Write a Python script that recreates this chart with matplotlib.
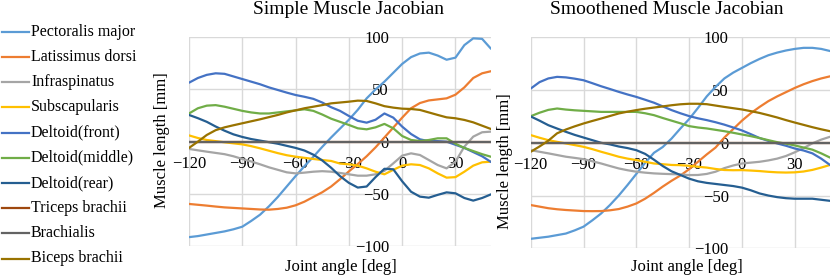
import numpy as np
import matplotlib
matplotlib.use("Agg")
import matplotlib.pyplot as plt
from matplotlib.lines import Line2D

plt.rcParams['font.family'] = ['Liberation Serif', 'DejaVu Serif']

angles = np.arange(-120, 51, 5)

names = ["Pectoralis major", "Latissimus dorsi", "Infraspinatus", "Subscapularis",
         "Deltoid(front)", "Deltoid(middle)", "Deltoid(rear)", "Triceps brachii",
         "Brachialis", "Biceps brachii"]
colors = ["#5B9BD5", "#ED7D31", "#A5A5A5", "#FFC000", "#4472C4", "#70AD47",
          "#255E91", "#9E480E", "#636363", "#997300"]

# ---- Simple Muscle Jacobian ----
s_pect = [-91.5, -90.5, -89, -87.5, -86, -84, -81.5, -76, -70, -62, -53, -43, -33, -23.5, -14.5, -5, 4, 12.5,
          21, 30.5, 41.5, 50, 57.5, 66, 74.5, 81, 84.5, 85.3, 82.5, 78.5, 80.5, 92.5, 99, 98.5, 89]
s_lat = [-59.7, -60.5, -61.3, -62.2, -63, -63.5, -64, -64.5, -65, -65.2, -64.5, -63.3, -61, -57.5, -53, -48.5,
         -43, -36, -28.5, -21.5, -14, -5.5, 4, 13.5, 23, 32, 37, 39.5, 40.5, 41.5, 45, 52, 61, 65.5, 67.5]
s_infra = [-7, -8.3, -9.6, -10.8, -12, -14, -16.6, -19, -21.7, -24.6, -27, -29.4, -30.4, -29.7, -28.8, -28.3,
           -28.8, -30, -31.3, -32.6, -32.6, -31.3, -28, -20.8, -13.4, -11.2, -12.8, -17.6, -22.4, -25.6, -19.2,
           -4.8, 4.8, 9, 9.6]
s_subs = [6, 3.5, 1.6, 0.5, -0.6, -1.6, -2.6, -4.3, -6.4, -8.7, -11, -13, -14.4, -15.5, -16.6, -17.6, -18.5,
          -21, -21.7, -23, -25.6, -28.8, -31.3, -27, -23, -21.7, -22.4, -25.6, -30.4, -34.5, -34, -28.8, -23,
          -19.8, -19.2]
s_front = [56.5, 61, 64, 65.5, 65, 62.5, 60, 57.5, 55, 52, 49.5, 47, 44.7, 43, 41, 37.5, 33, 29.5, 24.6, 20,
           18.2, 21, 27, 23, 14.4, 7.3, 2.2, 0.5, 0.5, 0, -3, -6, -10, -14, -19.5]
s_middle = [27, 32, 34.5, 35, 33.5, 31.5, 29.5, 28, 27, 27, 28, 29, 30, 31, 29.5, 26, 22, 19, 16, 12.8, 11.8,
            13.7, 17, 12.8, 5.4, 1.6, 0.6, 1.6, 3.2, 3.2, -2, -6, -9, -12, -14.5]
s_rear = [25.6, 22.5, 19, 14.5, 10.5, 7, 4.5, 2.5, 1, -0.5, -2, -4, -6, -8.5, -12.5, -18, -25, -33, -39.5,
          -44, -43, -34, -26, -26.5, -38, -48, -52.7, -53.7, -51, -48.6, -49.5, -54, -56.5, -54, -50.5]
s_triceps = [0] * 35
s_brach = [0] * 35
s_biceps = [-6, 0, 6.4, 11, 13.7, 15.7, 17.6, 19.5, 21.4, 23.5, 25.6, 28, 30, 32, 33.5, 35, 36.7, 37.5, 38.3,
            39.3, 39, 36.7, 34, 32.6, 31.6, 31.3, 30.4, 28, 25.6, 23.3, 22.4, 20.8, 18.5, 15.3, 12.1]

# ---- Smoothened Muscle Jacobian ----
m_pect = [-91, -90, -89, -87.5, -86, -83, -79.5, -73.5, -67, -59, -50, -40, -29.5, -19, -9.5, -4, 4, 13.5,
          22.5, 33, 44, 53, 61, 66.5, 71, 75.5, 79.5, 83, 85.5, 87.5, 89, 90, 90, 89, 87]
m_lat = [-59, -60.5, -62, -63, -63.7, -64.2, -64.7, -64.8, -64.7, -64, -62.8, -60.5, -57.5, -53, -47.5, -41.5,
         -36, -31, -25, -18, -11, -4.5, 5, 13, 21, 28, 34, 39.5, 44, 48, 52, 55.5, 58.5, 61, 63]
m_infra = [-7, -8.5, -10, -11.6, -13.2, -14.3, -15.5, -17.5, -19.6, -22, -24.3, -26, -27.4, -28.3, -29, -29.4,
           -29.7, -30, -30.6, -30.5, -29.5, -27.4, -24, -21.5, -19.6, -18.8, -18, -16.7, -15, -12.5, -9, -5,
           -0.5, 3, 5.7]
m_subs = [7.3, 4.8, 2.5, 0.9, -0.6, -2.2, -3.8, -6, -8.5, -10.8, -13.2, -15, -16.4, -18, -19.6, -20.3, -21,
          -21.2, -21.8, -22.7, -23.5, -24.8, -25.8, -26, -25.9, -26.3, -26.8, -27.5, -28, -28.2, -28, -27.2,
          -25.7, -23.5, -21]
m_front = [51.4, 57.5, 61, 62.5, 62, 60.8, 59.3, 56.5, 53.6, 51, 48.3, 45.8, 43.5, 40.8, 38, 34.5, 31, 28,
           25.3, 23.2, 21.5, 19.5, 17.2, 14.5, 11.7, 8.2, 4.5, 1.8, -0.6, -2.8, -5.4, -7.3, -10, -15, -21]
m_middle = [25.2, 28.5, 31.2, 32.5, 31.5, 30.8, 30.3, 29.8, 29.3, 29.3, 29.3, 29.3, 29.3, 28, 26.2, 23.5, 21,
            18.5, 15.8, 14.5, 13.6, 12.3, 11, 9.5, 7.9, 6.3, 4.5, 2.5, 0.6, -0.8, -2.5, -4.5, -6.5, -10, -14]
m_rear = [25, 21, 16.7, 13.5, 10.4, 7.5, 5, 2.5, 0, -1.5, -3.5, -5, -7, -10.5, -16, -22, -27, -30.5, -34,
          -36.5, -38, -39, -40, -41, -42.5, -45, -48, -50, -51.5, -52.5, -53, -53, -53, -54, -55]
m_triceps = [0] * 35
m_brach = [0] * 35
m_biceps = [-8.5, -3.5, 2, 9, 12.6, 15.6, 18.3, 20.7, 23, 25.4, 27.8, 29.5, 31, 32.3, 33.4, 34.5, 35.6, 36.5,
            37, 37, 36.6, 35.3, 34, 32.8, 31.6, 30, 28.3, 26.2, 24, 21.5, 19.2, 17, 14.8, 12.8, 11]

simple = [s_pect, s_lat, s_infra, s_subs, s_front, s_middle, s_rear, s_triceps, s_brach, s_biceps]
smooth = [m_pect, m_lat, m_infra, m_subs, m_front, m_middle, m_rear, m_triceps, m_brach, m_biceps]

xticks = [-120, -90, -60, -30, 0, 30]
yticks = [-100, -50, 0, 50, 100]

W, H = 830, 277
fig = plt.figure(figsize=(W / 100, H / 100), dpi=100)


def px_axes(x0, y0, x1, y1):
    return fig.add_axes([x0 / W, 1 - y1 / H, (x1 - x0) / W, (y1 - y0) / H])


def setup(ax, series, title, title_xy, xlab_xy, ylab_xy):
    for vals, c in zip(series, colors):
        ax.plot(angles, vals, color=c, lw=1.6, solid_capstyle='round')
    ax.set_xlim(-120, 50)
    ax.set_ylim(-100, 100)
    ax.set_xticks(xticks)
    ax.set_yticks(yticks)
    ax.grid(True, color='#D9D9D9', lw=1.0)
    ax.set_axisbelow(True)
    for s in ['top', 'right']:
        ax.spines[s].set_visible(False)
    ax.spines['left'].set_position(('data', 0))
    ax.spines['bottom'].set_position(('data', 0))
    ax.spines['left'].set_color('none')
    ax.spines['bottom'].set_color('none')
    ax.tick_params(axis='both', length=0, labelsize=12, colors='black')
    ax.tick_params(axis='x', pad=10)
    ax.tick_params(axis='y', pad=9.5)
    ax.patch.set_alpha(0)
    fig.text(title_xy[0] / W, 1 - title_xy[1] / H, title, ha='center', va='center', fontsize=14)
    fig.text(xlab_xy[0] / W, 1 - xlab_xy[1] / H, "Joint angle [deg]", ha='center', va='center', fontsize=12)
    fig.text(ylab_xy[0] / W, 1 - ylab_xy[1] / H, "Muscle length [mm]", ha='center', va='center',
             fontsize=12, rotation=90)


ax1 = px_axes(189, 37.3, 491, 246)
setup(ax1, simple, "Simple Muscle Jacobian", (348, 10), (341, 267), (162, 140))
ax2 = px_axes(530.7, 37.3, 830, 248.3)
setup(ax2, smooth, "Smoothened Muscle Jacobian", (667, 10), (687, 267), (505, 161))

# legend
leg_y = [31.7, 56.9, 82.1, 107.3, 132.5, 157.7, 182.9, 208.1, 233.3, 258.5]
for name, c, y in zip(names, colors, leg_y):
    fig.add_artist(Line2D([1.5 / W, 28.5 / W], [1 - y / H, 1 - y / H], color=c, lw=1.6,
                          transform=fig.transFigure))
    fig.text(31 / W, 1 - y / H, name, ha='left', va='center', fontsize=11.5)

fig.savefig("out.png", dpi=100)
